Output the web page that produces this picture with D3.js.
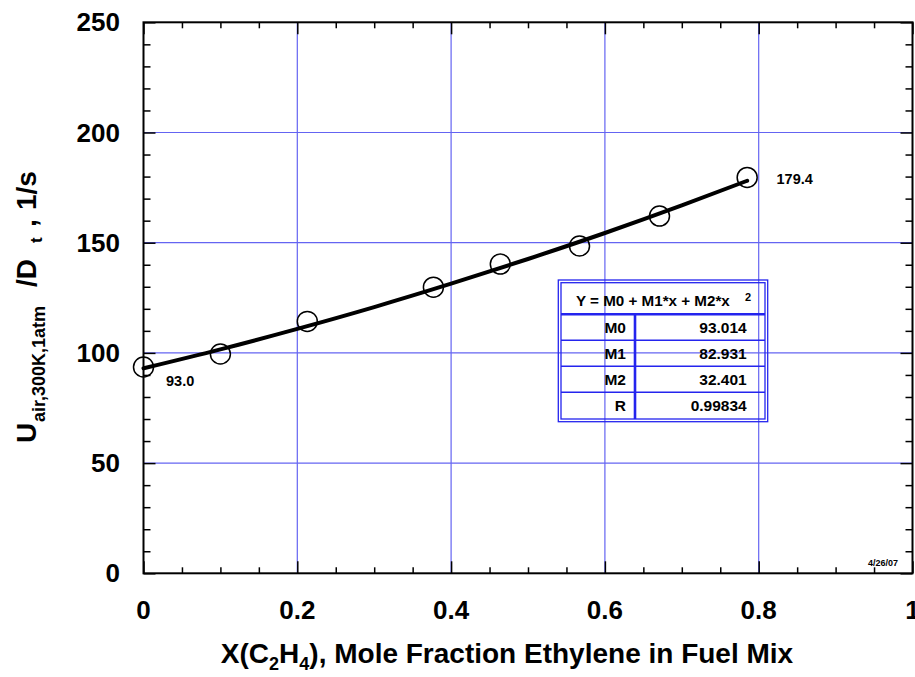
<!DOCTYPE html>
<html lang="en">
<head>
<meta charset="UTF-8">
<title>Strain rate vs ethylene fraction</title>
<script src="https://cdn.jsdelivr.net/npm/d3@7.9.0/dist/d3.min.js"></script>
<style>
    body { margin: 0; background: #fff; }
    svg { display: block; }
    text { font-family: "Liberation Sans", Arial, sans-serif; font-weight: bold; fill: #000; }
    .grid line { stroke: #6464f2; stroke-width: 1.2; }
    .axis path { display: none; }
    .axis line { stroke: #000; stroke-width: 1.5; }
    .tbl line, .tbl rect { stroke: #2424ee; fill: none; }
</style>
</head>
<body>
<svg id="chart" width="915" height="677"></svg>
<script>
// measured points
const xData = [0, 0.100, 0.213, 0.377, 0.464, 0.567, 0.671, 0.785];
const yData = [93.6, 99.5, 114.3, 129.8, 140.3, 148.5, 162.1, 179.6];

// fit curve
const fitX = [0, 0.1, 0.2, 0.3, 0.4, 0.5, 0.6, 0.7, 0.785];
const fitY = [93.0, 101.6, 110.9, 120.8, 131.4, 142.6, 154.4, 166.9, 178.1];

const xTicks = [0, 0.2, 0.4, 0.6, 0.8, 1];
const xTickLabels = ["0", "0.2", "0.4", "0.6", "0.8", "1"];
const xMinor = [0.05, 0.1, 0.15, 0.25, 0.3, 0.35, 0.45, 0.5, 0.55, 0.65, 0.7, 0.75, 0.85, 0.9, 0.95];
const yTicks = [0, 50, 100, 150, 200, 250];
const yMinor = [10, 20, 30, 40, 60, 70, 80, 90, 110, 120, 130, 140, 160, 170, 180, 190, 210, 220, 230, 240];
const xGrid = [0.2, 0.4, 0.6, 0.8];
const yGrid = [50, 100, 150, 200];

const fitRows = ["M0", "M1", "M2", "R"];
const fitVals = ["93.014", "82.931", "32.401", "0.99834"];
const endLabels = ["93.0", "179.4"];

const L = 143.5, R = 912.5, T = 22.3, B = 573.3;
const svg = d3.select("#chart");
const x = d3.scaleLinear().domain([0, 1]).range([L, R]);
const y = d3.scaleLinear().domain([0, 250]).range([B, T]);

// grid
const grid = svg.append("g").attr("class", "grid");
grid.selectAll(".gx").data(xGrid).enter().append("line")
    .attr("x1", d => x(d)).attr("x2", d => x(d))
    .attr("y1", T).attr("y2", B);
grid.selectAll(".gy").data(yGrid).enter().append("line")
    .attr("y1", d => y(d)).attr("y2", d => y(d))
    .attr("x1", L).attr("x2", R);

// axes - ticks point inward on all four sides
function addAxis(gen, tx, ty, vals, size) {
    const g = svg.append("g").attr("class", "axis")
        .attr("transform", `translate(${tx},${ty})`)
        .call(gen.tickValues(vals).tickSize(size).tickFormat(""));
    return g;
}
addAxis(d3.axisBottom(x), 0, B, xTicks, -12);
addAxis(d3.axisBottom(x), 0, B, xMinor, -6);
addAxis(d3.axisTop(x), 0, T, xTicks, -12);
addAxis(d3.axisTop(x), 0, T, xMinor, -6);
addAxis(d3.axisLeft(y), L, 0, yTicks, -12);
addAxis(d3.axisLeft(y), L, 0, yMinor, -7);
addAxis(d3.axisRight(y), R, 0, yTicks, -12);
addAxis(d3.axisRight(y), R, 0, yMinor, -7);

svg.append("rect").attr("x", L).attr("y", T).attr("width", R - L).attr("height", B - T)
    .attr("fill", "none").attr("stroke", "#000").attr("stroke-width", 2);

// tick labels
svg.append("g").selectAll("text").data(xTicks).enter().append("text")
    .attr("x", d => x(d)).attr("y", 619).attr("text-anchor", "middle")
    .attr("font-size", 26).text((d, i) => xTickLabels[i]);
svg.append("g").selectAll("text").data(yTicks).enter().append("text")
    .attr("x", 120).attr("y", d => y(d) + 9).attr("text-anchor", "end")
    .attr("font-size", 26).text(d => d);

// fit curve
const line = d3.line().x((d, i) => x(fitX[i])).y(d => y(d)).curve(d3.curveMonotoneX);
svg.append("path").datum(fitY).attr("d", line)
    .attr("fill", "none").attr("stroke", "#000").attr("stroke-width", 4).attr("stroke-linecap", "round");

// data points
svg.append("g").selectAll("circle").data(yData).enter().append("circle")
    .attr("cx", (d, i) => x(xData[i])).attr("cy", d => y(d)).attr("r", 10)
    .attr("fill", "none").attr("stroke", "#000").attr("stroke-width", 1.5);

svg.append("text").attr("x", 166).attr("y", 386).attr("font-size", 14.5).text(endLabels[0]);
svg.append("text").attr("x", 776.5).attr("y", 184).attr("font-size", 14.5).text(endLabels[1]);

// fit table
const tbl = svg.append("g").attr("class", "tbl");
const tx0 = 558.3, tx1 = 767.7, ty0 = 280, ty1 = 421.7, colX = 635;
const rowY = [314.3, 340.2, 366.2, 392.3];
tbl.append("rect").attr("x", tx0).attr("y", ty0).attr("width", tx1 - tx0).attr("height", ty1 - ty0)
    .attr("fill", "#fff").attr("stroke-width", 1.3);
tbl.append("rect").attr("x", tx0 + 2.7).attr("y", ty0 + 2.7).attr("width", tx1 - tx0 - 5.4).attr("height", ty1 - ty0 - 5.4)
    .attr("stroke-width", 1.3);
tbl.selectAll(".rl").data(rowY).enter().append("line")
    .attr("x1", tx0 + 2.7).attr("x2", tx1 - 2.7).attr("y1", d => d).attr("y2", d => d)
    .attr("stroke-width", (d, i) => i === 0 ? 2.6 : 1.6);
tbl.append("line").attr("x1", colX).attr("x2", colX).attr("y1", rowY[0]).attr("y2", ty1 - 2.7)
    .attr("stroke-width", 2.6);

const head = tbl.append("text").attr("x", 576).attr("y", 306).attr("font-size", 15.2);
head.append("tspan").text("Y = M0 + M1*x + M2*x");
head.append("tspan").attr("x", 745).attr("y", 301).attr("font-size", 11).text("2");

tbl.selectAll(".rn").data(fitRows).enter().append("text")
    .attr("x", 626).attr("y", (d, i) => rowY[i] + 19).attr("text-anchor", "end")
    .attr("font-size", 15.5).text(d => d);
tbl.selectAll(".rv").data(fitVals).enter().append("text")
    .attr("x", 746.7).attr("y", (d, i) => rowY[i] + 19).attr("text-anchor", "end")
    .attr("font-size", 15.5).text(d => d);

// date stamp
svg.append("text").attr("x", 898).attr("y", 565.7).attr("text-anchor", "end")
    .attr("font-size", 9).attr("font-weight", "normal").attr("fill", "#333").text("4/26/07");

// x axis title
const xt = svg.append("text").attr("x", 507).attr("y", 663).attr("text-anchor", "middle").attr("font-size", 28);
xt.append("tspan").text("X(C");
xt.append("tspan").attr("font-size", 18).attr("dy", 7).text("2");
xt.append("tspan").attr("dy", -7).text("H");
xt.append("tspan").attr("font-size", 18).attr("dy", 7).text("4");
xt.append("tspan").attr("dy", -7).text("), Mole Fraction Ethylene in Fuel Mix");

// y axis title
const yt = svg.append("text").attr("transform", "translate(36,443) rotate(-90)").attr("font-size", 28);
yt.append("tspan").attr("x", 0).attr("y", 0).text("U");
yt.append("tspan").attr("x", 21).attr("y", 9).attr("font-size", 18).text("air,300K,1atm");
yt.append("tspan").attr("x", 156).attr("y", 0).text("/D");
yt.append("tspan").attr("x", 200).attr("y", 6).attr("font-size", 17).text("t");
yt.append("tspan").attr("x", 216).attr("y", 0).text(",");
yt.append("tspan").attr("x", 233).attr("y", 0).text("1/s");
</script>
</body>
</html>
